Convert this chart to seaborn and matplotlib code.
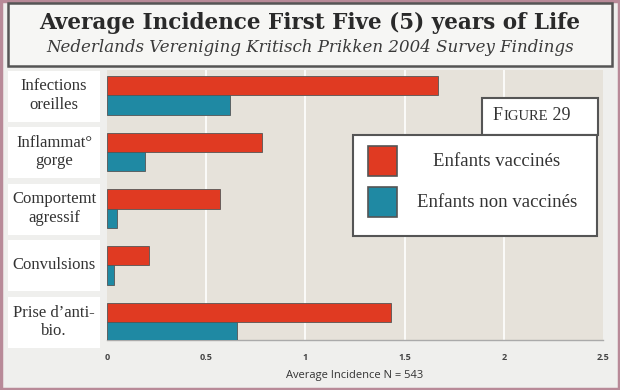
import matplotlib
matplotlib.use("Agg")
import matplotlib.pyplot as plt
import seaborn as sns
import pandas as pd
from matplotlib.patches import Rectangle
import matplotlib.transforms as mtransforms

categories = ["Infections\noreilles", "Inflammat°\ngorge", "Comportemt\nagressif",
              "Convulsions", "Prise d’anti-\nbio."]
vaccinated = [1.67, 0.78, 0.57, 0.21, 1.43]
unvaccinated = [0.62, 0.19, 0.05, 0.035, 0.655]
series_names = ["Enfants vaccinés", "Enfants non vaccinés"]
x_ticks = [0, 0.5, 1, 1.5, 2, 2.5]
x_ticklabels = ["0", "0.5", "1", "1.5", "2", "2.5"]
title = "Average Incidence First Five (5) years of Life"
subtitle = "Nederlands Vereniging Kritisch Prikken 2004 Survey Findings"
xlabel = "Average Incidence N = 543"
colors = ["#e03a22", "#1f89a3"]

df = pd.DataFrame({
    "cat": categories * 2,
    "val": vaccinated + unvaccinated,
    "group": [series_names[0]] * len(categories) + [series_names[1]] * len(categories),
})

sns.set_style("white")
fig = plt.figure(figsize=(6.2, 3.9), dpi=100)
fig.patch.set_facecolor("#efefed")

W, H = 620, 390
def fx(px):
    return px / W
def fy(py):
    return 1 - py / H

# outer border
fig.add_artist(Rectangle((0.002, 0.003), 0.996, 0.994, transform=fig.transFigure,
                         fill=False, edgecolor="#b88a98", linewidth=2.5))
# title box
fig.add_artist(Rectangle((fx(8), fy(66)), fx(612) - fx(8), fy(3) - fy(66),
                         transform=fig.transFigure, facecolor="#f6f6f4",
                         edgecolor="#555555", linewidth=1.8))
fig.text(0.5, fy(23), title, ha="center", va="center", fontsize=15.5,
         fontweight="bold", family="DejaVu Serif", color="#2a2a2a")
fig.text(0.5, fy(48), subtitle, ha="center", va="center", fontsize=12,
         style="italic", family="DejaVu Serif", color="#3a3a3a")

ax = fig.add_axes([fx(107), fy(340), fx(603) - fx(107), fy(70) - fy(340)])
ax.set_facecolor("#e6e2da")

sns.barplot(data=df, y="cat", x="val", hue="group", orient="h", palette=colors,
            saturation=1, width=0.68, edgecolor="#555555", linewidth=0.6, ax=ax,
            legend=False, zorder=3)

ax.set_xlim(0, 2.5)
ax.set_ylim(4.32, -0.45)
ax.set_xticks(x_ticks)
ax.set_xticklabels(x_ticklabels, fontsize=6.5, fontweight="bold", color="#444444",
                   family="Open Sans")
ax.tick_params(axis="x", length=3, color="#999999", pad=6)
ax.set_yticks([])
ax.set_ylabel("")
ax.set_xlabel(xlabel, fontsize=8, color="#333333", family="Open Sans", labelpad=6)
for g in [0.5, 1, 1.5, 2]:
    ax.axvline(g, color="white", linewidth=1.2, zorder=1)
for s in ["top", "right", "left"]:
    ax.spines[s].set_visible(False)
ax.spines["bottom"].set_color("#aaaaaa")
ax.spines["bottom"].set_linewidth(1)

# category label boxes
trans = mtransforms.blended_transform_factory(ax.transAxes, ax.transData)
x0 = (8 - 107) / 496
x1 = (100 - 107) / 496
for i, c in enumerate(categories):
    ax.add_patch(Rectangle((x0, i - 0.44), x1 - x0, 0.9, transform=trans,
                           facecolor="white", edgecolor="none", clip_on=False,
                           zorder=2))
    ax.text((x0 + x1) / 2, i, c, transform=trans, ha="center", va="center",
            fontsize=12, family="Liberation Serif", color="#333333",
            linespacing=1.2, clip_on=False, zorder=4)

# figure label box (small caps)
fig.add_artist(Rectangle((fx(482), fy(135)), fx(598) - fx(482), fy(98) - fy(135),
                         transform=fig.transFigure, facecolor="white",
                         edgecolor="#555555", linewidth=1.5, zorder=5))
t1 = fig.text(fx(493), fy(124), "F", ha="left", va="bottom", fontsize=13,
              family="Liberation Serif", color="#333333", zorder=6)
t2 = fig.text(0, 0, "IGURE", ha="left", va="bottom", fontsize=10.5,
              family="Liberation Serif", color="#333333", zorder=6)
t3 = fig.text(0, 0, " 29", ha="left", va="bottom", fontsize=13,
              family="Liberation Serif", color="#333333", zorder=6)
fig.canvas.draw()
r = fig.canvas.get_renderer()
bb1 = t1.get_window_extent(r)
t2.set_position((bb1.x1 / fig.bbox.width, fy(124) + 0.002))
bb2 = t2.get_window_extent(r)
t3.set_position((bb2.x1 / fig.bbox.width, fy(124)))

# legend box (drawn by hand so labels are centred as in the original)
fig.add_artist(Rectangle((fx(353), fy(236)), fx(597) - fx(353), fy(135) - fy(236),
                         transform=fig.transFigure, facecolor="white",
                         edgecolor="#555555", linewidth=1.5, zorder=5))
for k, (name, col) in enumerate(zip(series_names, colors)):
    top = 146 + k * 41
    fig.add_artist(Rectangle((fx(368), fy(top + 30)), fx(397) - fx(368),
                             fy(top) - fy(top + 30), transform=fig.transFigure,
                             facecolor=col, edgecolor="#555555", linewidth=1.2,
                             zorder=6))
    fig.text(fx(497), fy(top + 15), name, ha="center", va="center", fontsize=13.5,
             family="Liberation Serif", color="#333333", zorder=6)

fig.savefig("out.png", dpi=100, facecolor=fig.get_facecolor())
